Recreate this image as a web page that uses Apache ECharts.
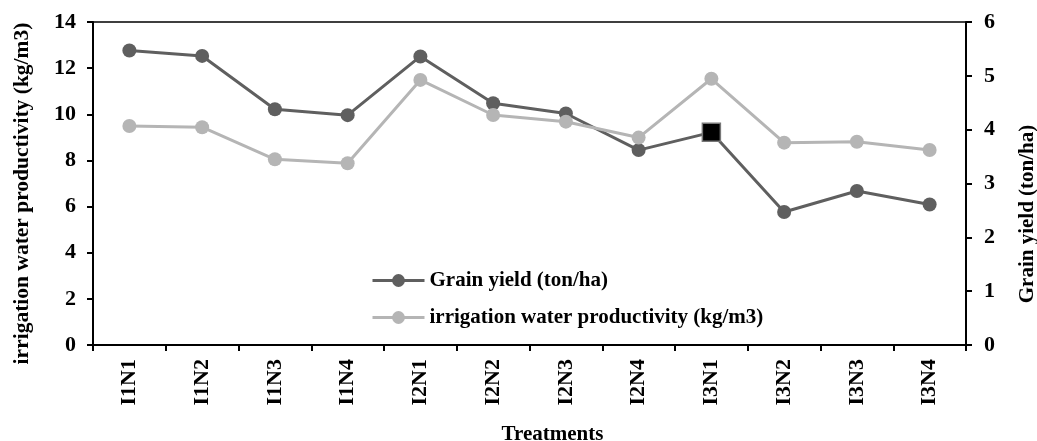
<!DOCTYPE html>
<html>
<head>
<meta charset="utf-8">
<script src="https://cdn.jsdelivr.net/npm/echarts@6/dist/echarts.min.js"></script>
<style>html,body{margin:0;padding:0;background:#fff}#c{width:1037px;height:441px}</style>
</head>
<body>
<div id="c"></div>
<script>
const categories = ['I1N1','I1N2','I1N3','I1N4','I2N1','I2N2','I2N3','I2N4','I3N1','I3N2','I3N3','I3N4'];
const grainYield = [5.47, 5.37, 4.38, 4.27, 5.36, 4.49, 4.30, 3.62, 3.95, 2.47, 2.86, 2.61];
const waterProductivity = [9.49, 9.44, 8.05, 7.88, 11.49, 9.97, 9.68, 8.99, 11.54, 8.77, 8.81, 8.45];
const leftTicks = {min: 0, max: 14, interval: 2};
const rightTicks = {min: 0, max: 6, interval: 1};

const FONT = 'Liberation Serif';
const DARK = '#5f5f5f';
const LIGHT = '#b5b5b5';
const txt = {fontFamily: FONT, fontWeight: 'bold', color: '#000'};

const chart = echarts.init(document.getElementById('c'), null, {renderer: 'canvas'});
chart.setOption({
  animation: false,
  backgroundColor: '#fff',
  grid: {left: 93, right: 71, top: 22, bottom: 96, show: true, borderColor: '#000', borderWidth: 1.5,
         containLabel: false, outerBoundsMode: 'none'},
  legend: {
    orient: 'vertical', left: 366, top: 265, itemWidth: 52, itemHeight: 16, itemGap: 16,
    textStyle: Object.assign({}, txt, {fontSize: 21}),
    lineStyle: {width: 3},
    data: ['Grain yield (ton/ha)', 'irrigation water productivity (kg/m3)']
  },
  xAxis: {
    type: 'category', data: categories, boundaryGap: true,
    name: 'Treatments', nameLocation: 'middle', nameGap: 79,
    nameTextStyle: Object.assign({}, txt, {fontSize: 21, padding: [0, 0, 0, 46]}),
    axisLine: {lineStyle: {color: '#000', width: 2}},
    axisTick: {show: true, length: 6, lineStyle: {color: '#000', width: 2}},
    axisLabel: Object.assign({}, txt, {fontSize: 22, rotate: 90, margin: 14}),
    splitLine: {show: false}
  },
  yAxis: [
    {
      type: 'value', position: 'left', min: leftTicks.min, max: leftTicks.max, interval: leftTicks.interval,
      name: 'irrigation water productivity (kg/m3)', nameLocation: 'middle', nameGap: 60,
      nameTextStyle: Object.assign({}, txt, {fontSize: 21.5, padding: [0, 20, 0, 0]}),
      axisLine: {show: true, lineStyle: {color: '#000', width: 2}},
      axisTick: {show: true, length: 6, lineStyle: {color: '#000', width: 2}},
      axisLabel: Object.assign({}, txt, {fontSize: 22, margin: 17}),
      splitLine: {show: false}
    },
    {
      type: 'value', position: 'right', min: rightTicks.min, max: rightTicks.max, interval: rightTicks.interval,
      name: 'Grain yield (ton/ha)', nameLocation: 'middle', nameGap: 51,
      nameTextStyle: Object.assign({}, txt, {fontSize: 21, padding: [0, 61, 0, 0]}),
      axisLine: {show: true, lineStyle: {color: '#000', width: 2}},
      axisTick: {show: true, length: 6, lineStyle: {color: '#000', width: 2}},
      axisLabel: Object.assign({}, txt, {fontSize: 22, margin: 18}),
      splitLine: {show: false}
    }
  ],
  series: [
    {
      name: 'Grain yield (ton/ha)', type: 'line', yAxisIndex: 1,
      data: grainYield.map((v, i) => i === 8
        ? {value: v, symbol: 'rect', symbolSize: 18, itemStyle: {color: '#000', borderColor: '#777', borderWidth: 1.5}}
        : v),
      symbol: 'circle', symbolSize: 14,
      lineStyle: {color: DARK, width: 3},
      itemStyle: {color: DARK}
    },
    {
      name: 'irrigation water productivity (kg/m3)', type: 'line', yAxisIndex: 0,
      data: waterProductivity,
      symbol: 'circle', symbolSize: 14,
      lineStyle: {color: LIGHT, width: 3},
      itemStyle: {color: LIGHT}
    }
  ]
});
</script>
</body>
</html>
